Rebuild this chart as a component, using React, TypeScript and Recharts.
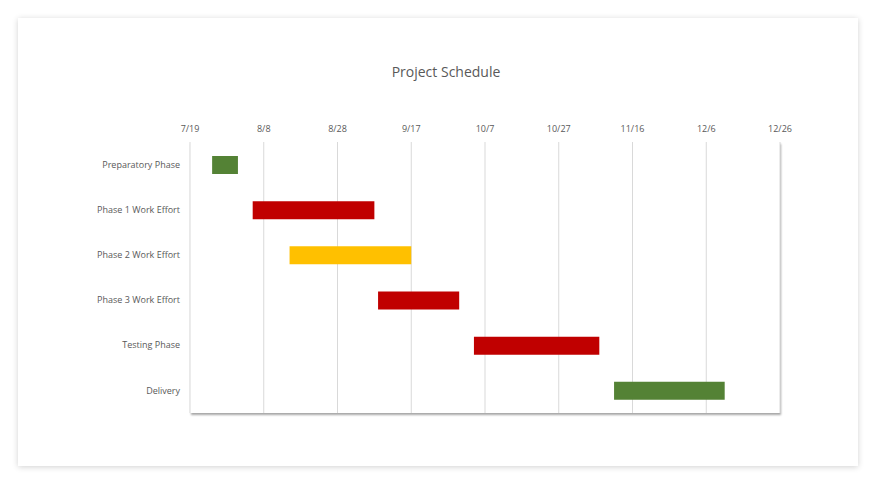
import { BarChart, Bar, XAxis, YAxis, CartesianGrid, Cell } from "recharts"

const tasks = ["Preparatory Phase", "Phase 1 Work Effort", "Phase 2 Work Effort", "Phase 3 Work Effort", "Testing Phase", "Delivery"]
const startDates = ["7/25", "8/5", "8/15", "9/8", "10/4", "11/11"]
const durations = [7, 33, 33, 22, 34, 30]
const barColors = ["#548235", "#c00000", "#ffc000", "#c00000", "#c00000", "#548235"]
const tickLabels = ["7/19", "8/8", "8/28", "9/17", "10/7", "10/27", "11/16", "12/6", "12/26"]

const DAY = 86400000
const toDay = (s: string) => {
  const [m, d] = s.split("/").map(Number)
  return Date.UTC(2023, m - 1, d) / DAY
}
const base = toDay(tickLabels[0])
const ticks = tickLabels.map((t) => toDay(t) - base)

const data = tasks.map((task, i) => ({
  task,
  offset: toDay(startDates[i]) - base,
  duration: durations[i],
}))

const font = "'Open Sans', 'Noto Sans', sans-serif"

export default function App() {
  return (
    <div style={{ position: "absolute", left: 0, top: 0, width: 876, height: 484, background: "#fff" }}>
      <div
        style={{
          position: "absolute",
          left: 18,
          top: 18,
          width: 840,
          height: 448,
          background: "#fff",
          boxShadow: "0 1px 6px rgba(0,0,0,0.18)",
        }}
      >
        <div
          style={{
            position: "absolute",
            left: 0,
            top: 44,
            width: 856,
            textAlign: "center",
            fontFamily: font,
            fontSize: 14,
            color: "#595959",
          }}
        >
          Project Schedule
        </div>
        <div
          style={{
            position: "absolute",
            left: 172,
            top: 124,
            width: 590,
            height: 271,
            background: "#fff",
            boxShadow: "1px 2px 2px rgba(0,0,0,0.35)",
          }}
        />
        <div style={{ position: "absolute", left: 0, top: 0 }}>
          <BarChart
            width={840}
            height={448}
            data={data}
            layout="vertical"
            barSize={18}
            margin={{ top: 104, right: 78, bottom: 53, left: 0 }}
          >
            <CartesianGrid vertical horizontal={false} stroke="#d9d9d9" verticalValues={ticks} />
            <XAxis
              type="number"
              orientation="top"
              domain={[ticks[0], ticks[ticks.length - 1]]}
              ticks={ticks}
              tickFormatter={(v: number) => tickLabels[ticks.indexOf(v)] ?? ""}
              axisLine={false}
              tickLine={false}
              tickSize={0}
              tickMargin={10}
              height={20}
              tick={{ fontSize: 9, fill: "#595959", fontFamily: font }}
            />
            <YAxis
              type="category"
              dataKey="task"
              width={172}
              axisLine={false}
              tickLine={false}
              tickSize={0}
              tickMargin={10}
              tick={{ fontSize: 9, fill: "#595959", fontFamily: font }}
            />
            <Bar dataKey="offset" stackId="g" fill="transparent" isAnimationActive={false} />
            <Bar dataKey="duration" stackId="g" isAnimationActive={false}>
              {data.map((d, i) => (
                <Cell key={d.task} fill={barColors[i]} />
              ))}
            </Bar>
          </BarChart>
        </div>
      </div>
    </div>
  )
}
